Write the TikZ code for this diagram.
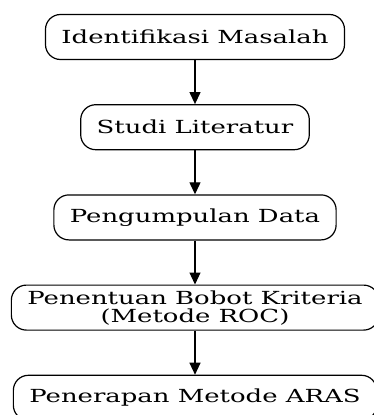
\documentclass[tikz,border=0pt]{standalone}
\usepackage{fontspec}
\setmainfont{DejaVu Serif}[FakeStretch=1.44]
\usetikzlibrary{arrows.meta,positioning}

\begin{document}
\begin{tikzpicture}[x=1pt,y=1pt,>={Triangle[length=12pt,width=11pt]},
    node distance=44pt,
    stage/.style={draw, line width=1.2pt, rounded corners=15pt, minimum height=45pt,
      inner xsep=16pt, inner ysep=3pt, align=center, font=\fontsize{18}{18}\selectfont}]
  \useasboundingbox (0,0) rectangle (374,-415);
  \node[stage] (ident) at (195,-37) {Identifikasi Masalah};
  \node[stage, below=of ident] (studi) {Studi Literatur};
  \node[stage, below=of studi] (kumpul) {Pengumpulan Data};
  \node[stage, below=of kumpul] (bobot) {Penentuan Bobot Kriteria\\(Metode ROC)};
  \node[stage, below=of bobot] (aras) {Penerapan Metode ARAS};
  \foreach \a/\b in {ident/studi,studi/kumpul,kumpul/bobot,bobot/aras}
    \draw[->, line width=1.2pt] (\a) -- (\b);
\end{tikzpicture}
\end{document}
